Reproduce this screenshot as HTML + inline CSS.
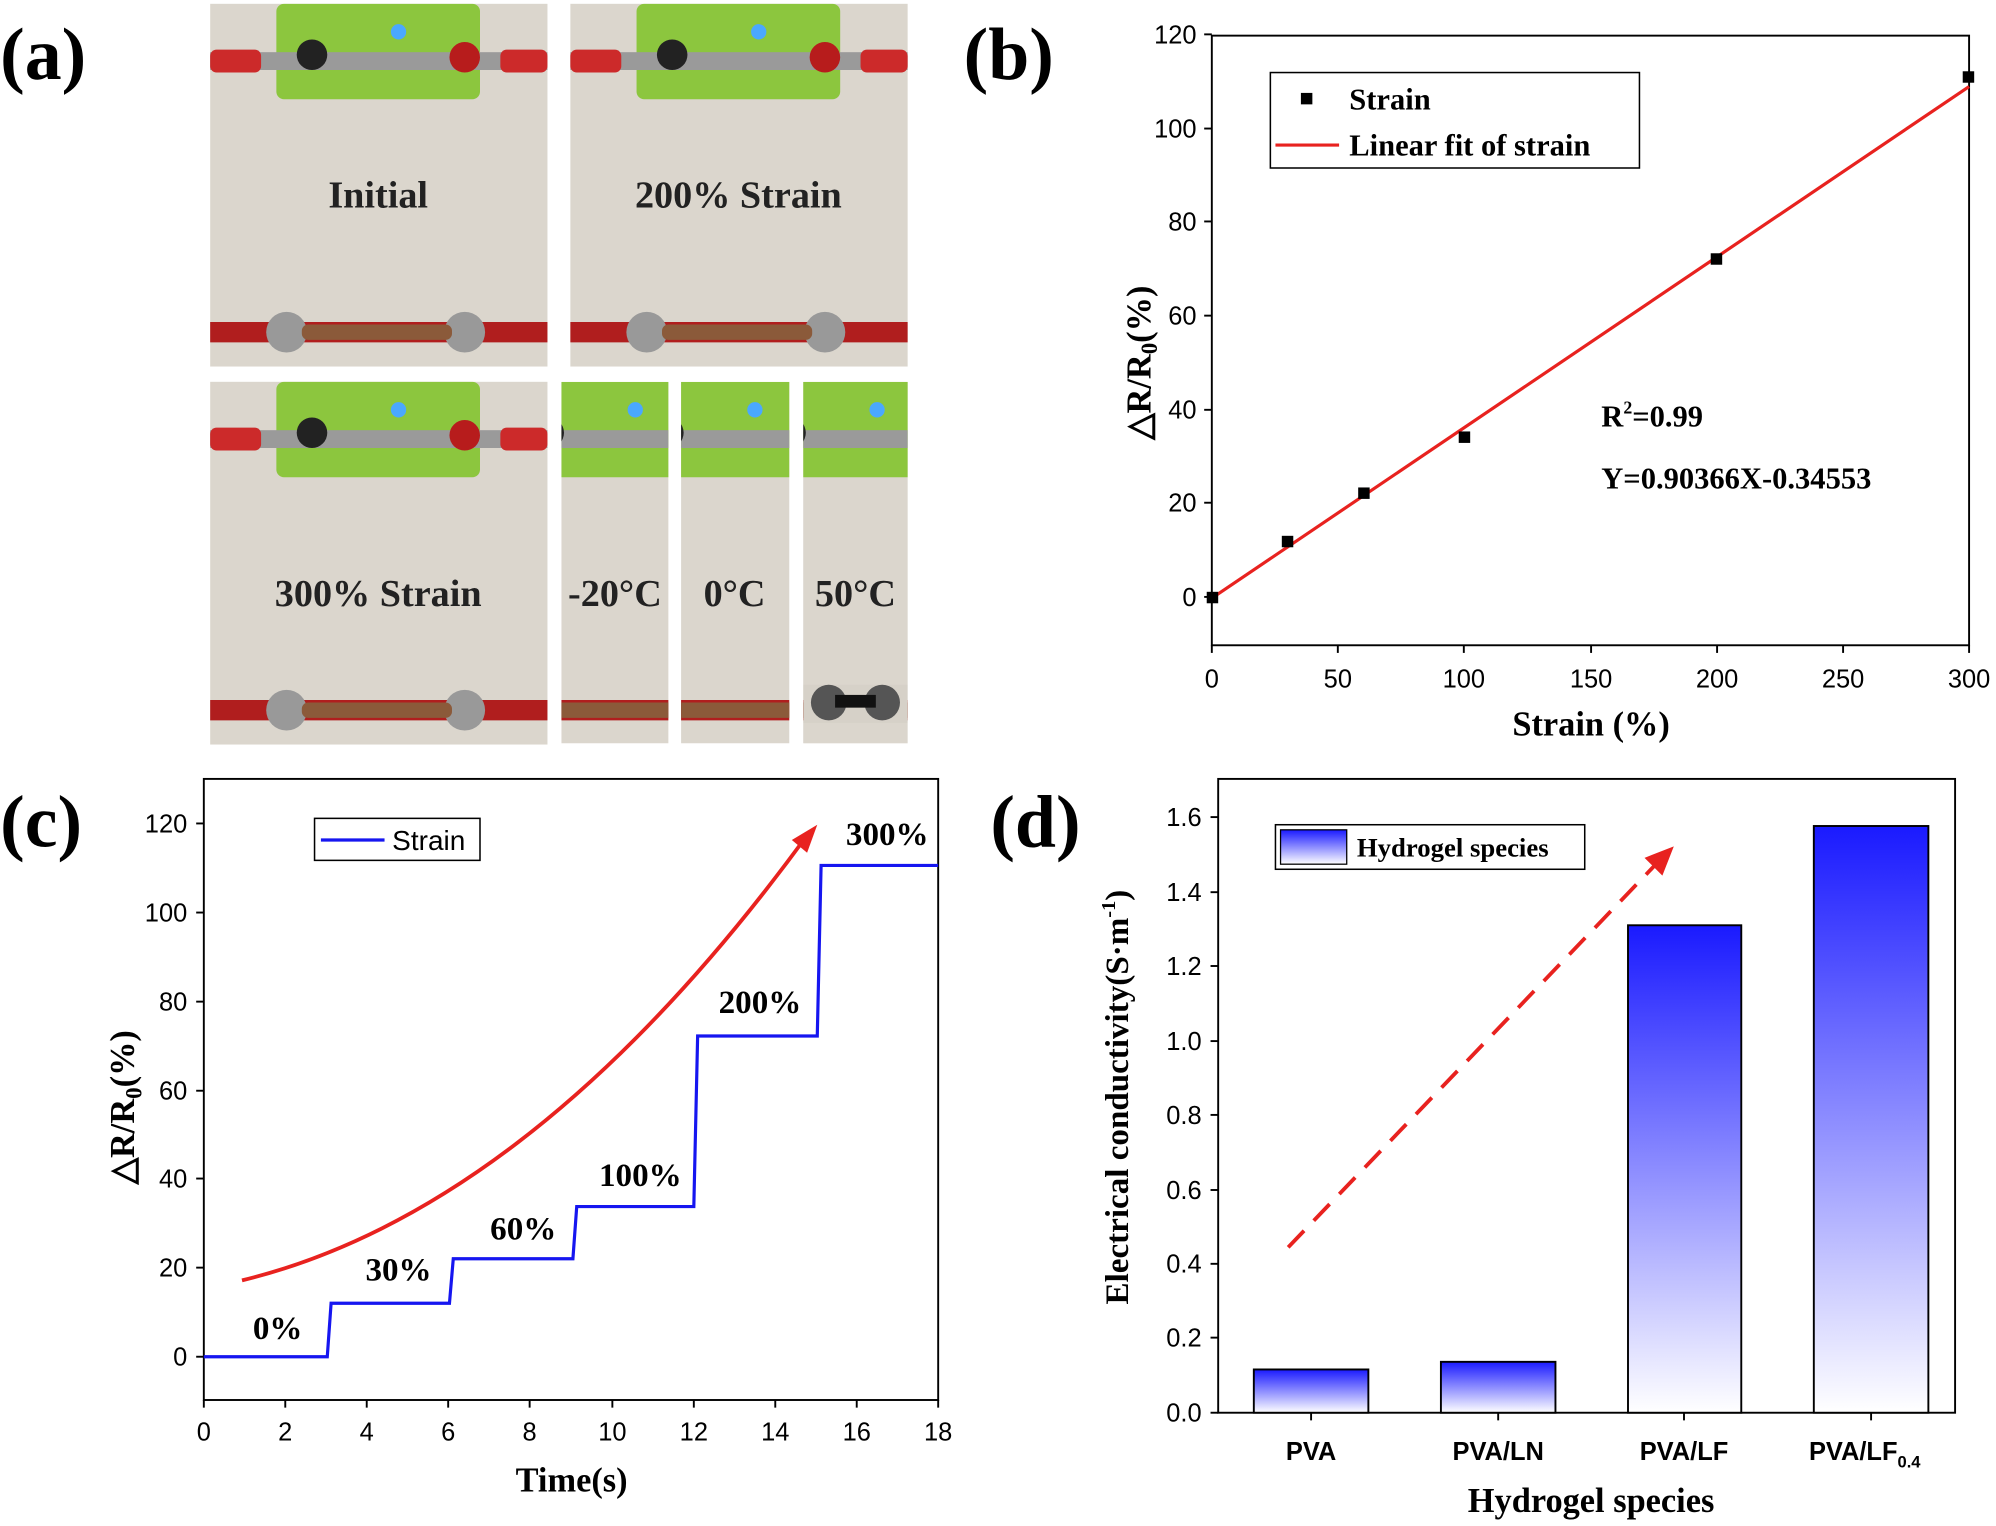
<!DOCTYPE html>
<html><head><meta charset="utf-8"><style>
html,body{margin:0;padding:0;background:#fff}
svg{display:block}
.t{font-family:"Liberation Serif",serif;font-weight:bold}
.s{font-family:"Liberation Sans",sans-serif}
</style></head><body>
<svg width="1996" height="1526" viewBox="0 0 1568 1199" xmlns="http://www.w3.org/2000/svg">
<defs>
<linearGradient id="bg" x1="0" y1="0" x2="0" y2="1"><stop offset="0" stop-color="#1a1aff"/><stop offset="1" stop-color="#ffffff"/></linearGradient>
<g id="photo">
<rect x="0" y="0" width="265" height="285" fill="#dbd6cd"/>
<rect x="52" y="0" width="160" height="75" rx="6" fill="#8cc63e"/>
<rect x="0" y="38" width="265" height="14" fill="#9a9a9a"/>
<rect x="0" y="36" width="40" height="18" rx="5" fill="#cc2a2a"/>
<rect x="228" y="36" width="37" height="18" rx="5" fill="#cc2a2a"/>
<circle cx="80" cy="40" r="12" fill="#222"/><circle cx="200" cy="42" r="12" fill="#b71c1c"/>
<circle cx="148" cy="22" r="6" fill="#4aa8ff"/>
<rect x="0" y="250" width="265" height="16" fill="#b01e1e"/>
<circle cx="60" cy="258" r="16" fill="#999"/><circle cx="200" cy="258" r="16" fill="#999"/>
<rect x="72" y="252" width="118" height="12" rx="5" fill="#8b5a3a"/>
</g>
</defs>
<text class="t" x="0" y="62" font-size="58">(a)</text>
<text class="t" x="757" y="62" font-size="58">(b)</text>
<text class="t" x="0" y="665" font-size="58">(c)</text>
<text class="t" x="778" y="665" font-size="58">(d)</text>

<!-- panel a photos -->
<use href="#photo" x="165" y="3"/>
<use href="#photo" x="448" y="3"/>
<use href="#photo" x="165" y="300"/>
<svg x="441" y="300" width="84" height="284"><use href="#photo" x="-90"/></svg>
<svg x="535" y="300" width="85" height="284"><use href="#photo" x="-90"/></svg>
<svg x="631" y="300" width="82" height="284"><rect width="82" height="284" fill="#d6d1c8"/><use href="#photo" x="-90"/><rect x="0" y="238" width="82" height="30" fill="#d6d1c8"/><circle cx="20" cy="252" r="14" fill="#555"/><circle cx="62" cy="252" r="14" fill="#555"/><rect x="25" y="246" width="32" height="10" fill="#111"/></svg>
<g class="t" font-size="30" fill="#222" text-anchor="middle">
<text x="297" y="163">Initial</text>
<text x="580" y="163">200% Strain</text>
<text x="297" y="476">300% Strain</text>
<text x="483" y="476">-20°C</text>
<text x="577" y="476">0°C</text>
<text x="672" y="476">50°C</text>
</g>

<!-- panel b -->
<rect x="952" y="28" width="595" height="479" fill="none" stroke="#000" stroke-width="1.5"/>
<g stroke="#000" stroke-width="1.5">
<line x1="952" y1="469" x2="946" y2="469"/><line x1="952" y1="395" x2="946" y2="395"/><line x1="952" y1="322" x2="946" y2="322"/><line x1="952" y1="248" x2="946" y2="248"/><line x1="952" y1="174" x2="946" y2="174"/><line x1="952" y1="101" x2="946" y2="101"/><line x1="952" y1="27" x2="946" y2="27"/>
<line x1="952" y1="507" x2="952" y2="513"/><line x1="1051" y1="507" x2="1051" y2="513"/><line x1="1150" y1="507" x2="1150" y2="513"/><line x1="1250" y1="507" x2="1250" y2="513"/><line x1="1349" y1="507" x2="1349" y2="513"/><line x1="1448" y1="507" x2="1448" y2="513"/><line x1="1547" y1="507" x2="1547" y2="513"/>
</g>
<g class="s" font-size="20" text-anchor="end"><text x="940" y="476">0</text><text x="940" y="402">20</text><text x="940" y="329">40</text><text x="940" y="255">60</text><text x="940" y="181">80</text><text x="940" y="108">100</text><text x="940" y="34">120</text></g>
<g class="s" font-size="20" text-anchor="middle"><text x="952" y="540">0</text><text x="1051" y="540">50</text><text x="1150" y="540">100</text><text x="1250" y="540">150</text><text x="1349" y="540">200</text><text x="1448" y="540">250</text><text x="1547" y="540">300</text></g>
<text class="t" x="1250" y="578" font-size="27" text-anchor="middle">Strain (%)</text>
<text class="t" font-size="27" transform="translate(904,285) rotate(-90)" text-anchor="middle">△R/R<tspan font-size="18" dy="5">0</tspan><tspan dy="-5">(%)</tspan></text>
<line x1="952" y1="470" x2="1547" y2="68" stroke="#e8221f" stroke-width="2.5"/>
<g fill="#000"><rect x="948" y="465" width="9" height="9"/><rect x="1007" y="421" width="9" height="9"/><rect x="1067" y="383" width="9" height="9"/><rect x="1146" y="339" width="9" height="9"/><rect x="1344" y="199" width="9" height="9"/><rect x="1542" y="56" width="9" height="9"/></g>
<rect x="998" y="57" width="290" height="75" fill="#fff" stroke="#000" stroke-width="1.2"/>
<rect x="1022" y="73" width="9" height="9"/>
<text class="t" x="1060" y="86" font-size="24">Strain</text>
<line x1="1002" y1="114" x2="1052" y2="114" stroke="#e8221f" stroke-width="2.5"/>
<text class="t" x="1060" y="122" font-size="24">Linear fit of strain</text>
<text class="t" x="1258" y="335" font-size="24">R<tspan font-size="14" dy="-10">2</tspan><tspan dy="10">=0.99</tspan></text>
<text class="t" x="1258" y="384" font-size="24">Y=0.90366X-0.34553</text>

<!-- panel c -->
<rect x="160" y="612" width="577" height="488" fill="none" stroke="#000" stroke-width="1.5"/>
<g stroke="#000" stroke-width="1.5">
<line x1="160" y1="1066" x2="154" y2="1066"/><line x1="160" y1="996" x2="154" y2="996"/><line x1="160" y1="926" x2="154" y2="926"/><line x1="160" y1="857" x2="154" y2="857"/><line x1="160" y1="787" x2="154" y2="787"/><line x1="160" y1="717" x2="154" y2="717"/><line x1="160" y1="647" x2="154" y2="647"/>
<line x1="160" y1="1100" x2="160" y2="1106"/><line x1="224" y1="1100" x2="224" y2="1106"/><line x1="288" y1="1100" x2="288" y2="1106"/><line x1="352" y1="1100" x2="352" y2="1106"/><line x1="416" y1="1100" x2="416" y2="1106"/><line x1="481" y1="1100" x2="481" y2="1106"/><line x1="545" y1="1100" x2="545" y2="1106"/><line x1="609" y1="1100" x2="609" y2="1106"/><line x1="673" y1="1100" x2="673" y2="1106"/><line x1="737" y1="1100" x2="737" y2="1106"/>
</g>
<g class="s" font-size="20" text-anchor="end"><text x="147" y="1073">0</text><text x="147" y="1003">20</text><text x="147" y="933">40</text><text x="147" y="864">60</text><text x="147" y="794">80</text><text x="147" y="724">100</text><text x="147" y="654">120</text></g>
<g class="s" font-size="20" text-anchor="middle"><text x="160" y="1132">0</text><text x="224" y="1132">2</text><text x="288" y="1132">4</text><text x="352" y="1132">6</text><text x="416" y="1132">8</text><text x="481" y="1132">10</text><text x="545" y="1132">12</text><text x="609" y="1132">14</text><text x="673" y="1132">16</text><text x="737" y="1132">18</text></g>
<text class="t" x="449" y="1172" font-size="27" text-anchor="middle">Time(s)</text>
<text class="t" font-size="27" transform="translate(105,870) rotate(-90)" text-anchor="middle">△R/R<tspan font-size="18" dy="6">0</tspan><tspan dy="-6">(%)</tspan></text>
<polyline fill="none" stroke="#1616f0" stroke-width="2.5" points="160,1066 257,1066 260,1024 353,1024 356,989 450,989 453,948 545,948 548,814 642,814 645,680 737,680"/>
<path d="M190,1006 Q420,950 635,655" fill="none" stroke="#e8221f" stroke-width="3"/>
<polygon points="642,648 622,660 634,670" fill="#e8221f"/>
<g class="t" font-size="26" text-anchor="middle"><text x="218" y="1052">0%</text><text x="313" y="1006">30%</text><text x="411" y="974">60%</text><text x="503" y="932">100%</text><text x="597" y="796">200%</text><text x="697" y="664">300%</text></g>
<rect x="247" y="643" width="130" height="33" fill="#fff" stroke="#000" stroke-width="1.2"/>
<line x1="252" y1="660" x2="302" y2="660" stroke="#1616f0" stroke-width="2.5"/>
<text class="s" x="308" y="668" font-size="22">Strain</text>

<!-- panel d -->
<rect x="957" y="612" width="579" height="498" fill="none" stroke="#000" stroke-width="1.5"/>
<g stroke="#000" stroke-width="1.5">
<line x1="957" y1="1110" x2="951" y2="1110"/><line x1="957" y1="1051" x2="951" y2="1051"/><line x1="957" y1="993" x2="951" y2="993"/><line x1="957" y1="935" x2="951" y2="935"/><line x1="957" y1="876" x2="951" y2="876"/><line x1="957" y1="818" x2="951" y2="818"/><line x1="957" y1="759" x2="951" y2="759"/><line x1="957" y1="701" x2="951" y2="701"/><line x1="957" y1="642" x2="951" y2="642"/>
<line x1="1030" y1="1110" x2="1030" y2="1116"/><line x1="1177" y1="1110" x2="1177" y2="1116"/><line x1="1323" y1="1110" x2="1323" y2="1116"/><line x1="1470" y1="1110" x2="1470" y2="1116"/>
</g>
<g class="s" font-size="20" text-anchor="end"><text x="944" y="1117">0.0</text><text x="944" y="1058">0.2</text><text x="944" y="1000">0.4</text><text x="944" y="942">0.6</text><text x="944" y="883">0.8</text><text x="944" y="825">1.0</text><text x="944" y="766">1.2</text><text x="944" y="708">1.4</text><text x="944" y="649">1.6</text></g>
<g class="s" font-size="20" font-weight="bold" text-anchor="middle"><text x="1030" y="1147">PVA</text><text x="1177" y="1147">PVA/LN</text><text x="1323" y="1147">PVA/LF</text><text x="1465" y="1147">PVA/LF<tspan font-size="13" dy="6">0.4</tspan></text></g>
<text class="t" x="1250" y="1188" font-size="27" text-anchor="middle">Hydrogel species</text>
<text class="t" font-size="26" transform="translate(886,862) rotate(-90)" text-anchor="middle">Electrical conductivity(S·m<tspan font-size="16" dy="-10">-1</tspan><tspan dy="10">)</tspan></text>
<g stroke="#000" stroke-width="1.5" fill="url(#bg)">
<rect x="985" y="1076" width="90" height="34"/><rect x="1132" y="1070" width="90" height="40"/><rect x="1279" y="727" width="89" height="383"/><rect x="1425" y="649" width="90" height="461"/>
</g>
<line x1="1012" y1="980" x2="1300" y2="680" stroke="#e8221f" stroke-width="3" stroke-dasharray="18,11"/>
<polygon points="1315,665 1292,674 1306,688" fill="#e8221f"/>
<rect x="1002" y="648" width="243" height="35" fill="#fff" stroke="#000" stroke-width="1.2"/>
<rect x="1006" y="652" width="52" height="27" fill="url(#bg)" stroke="#000" stroke-width="1"/>
<text class="t" x="1066" y="673" font-size="21">Hydrogel species</text>
</svg>
</body></html>
